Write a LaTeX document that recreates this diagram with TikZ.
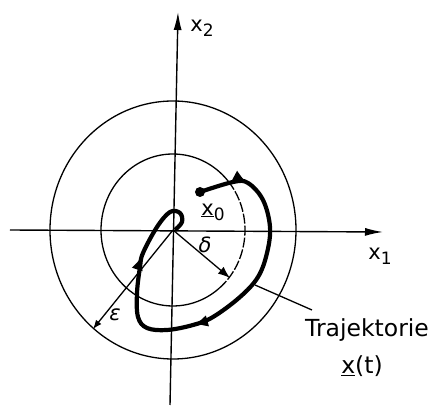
\documentclass[tikz,border=0pt]{standalone}
\usepackage{fontspec}
\setmainfont{DejaVu Sans}
\usetikzlibrary{arrows.meta,decorations.markings}
\newcommand{\lowidx}[1]{\raisebox{-0.45ex}{\fontsize{17}{19}\selectfont #1}}

\begin{document}
\begin{tikzpicture}[x=1pt, y=1pt, font=\fontsize{21}{25}\selectfont,
  axisline/.style={line width=1.4pt, -{Latex[length=18pt,width=8pt]}},
  ring/.style={line width=1.3pt},
  radiusarrow/.style={line width=1.3pt, -{Latex[length=12pt,width=9pt]}},
  trajline/.style={line width=4.2pt, line join=round, postaction={decorate},
    decoration={markings,
      mark=at position 0.11 with {\arrow{Latex[length=14pt,width=12pt]}},
      mark=at position 0.53 with {\arrow{Latex[length=14pt,width=12pt]}},
      mark=at position 0.81 with {\arrow{Latex[length=14pt,width=12pt]}}}},
  lbl/.style={inner sep=0pt}]
  \useasboundingbox (-173,-176) rectangle (261,230);
  % axes
  \coordinate (O) at (0,0);
  \coordinate (xl) at (-163,0);
  \coordinate (xr) at (210,-2);
  \coordinate (yb) at (-3,-175);
  \coordinate (yt) at (5,218);
  \draw[axisline] (xl) -- (xr);
  \draw[axisline] (yb) -- (yt);
  \node[lbl] (xone) at (207,-26) {x\lowidx{1}};
  \node[lbl] (xtwo) at (29,202) {x\lowidx{2}};
  % epsilon and delta regions
  \draw[ring] (O) ellipse [x radius=123, y radius=129];
  \draw[ring] (38:72 and 76) arc [start angle=38, end angle=310, x radius=72, y radius=76];
  \draw[ring, dash pattern=on 10pt off 2pt] (-50:72 and 76) arc [start angle=-50, end angle=38, x radius=72, y radius=76];
  \coordinate (deltaend) at (57,-48);
  \coordinate (epsend) at (-80,-99);
  \draw[radiusarrow] (O) -- (deltaend);
  \draw[radiusarrow, -{Latex[length=9pt,width=7pt]}] (O) -- (epsend);
  \node[lbl] (delta) at (32,-15) {\textit{δ}};
  \node[lbl] (eps) at (-58,-85) {\textit{ε}};
  % trajectory
  \coordinate (start) at (27,38);
  \draw[trajline] plot[smooth, tension=0.6] coordinates {(27,38) (60,48) (75,47) (90,30) (97,3) (94,-23) (85,-47) (67,-67) (40,-87) (20,-95) (-6,-100) (-26,-98) (-35,-87) (-36,-63) (-33,-37) (-30,-23) (-16,3) (-3,18) (7,17) (9,8) (2,0)};
  \fill (start) circle (5);
  \node[lbl] (xnull) at (40,18) {\underline{x}\lowidx{0}};
  % label
  \node[lbl, anchor=base, font=\fontsize{23.5}{27}\selectfont] (trajname) at (194,-107) {Trajektorie};
  \node[lbl, anchor=base, font=\fontsize{23.5}{27}\selectfont] (trajfun) at (189,-144) {\underline{x}(t)};
  \coordinate (lead) at (82,-55);
  \coordinate (leadend) at (139,-80);
  \draw[ring] (lead) -- (leadend);
\end{tikzpicture}
\end{document}
